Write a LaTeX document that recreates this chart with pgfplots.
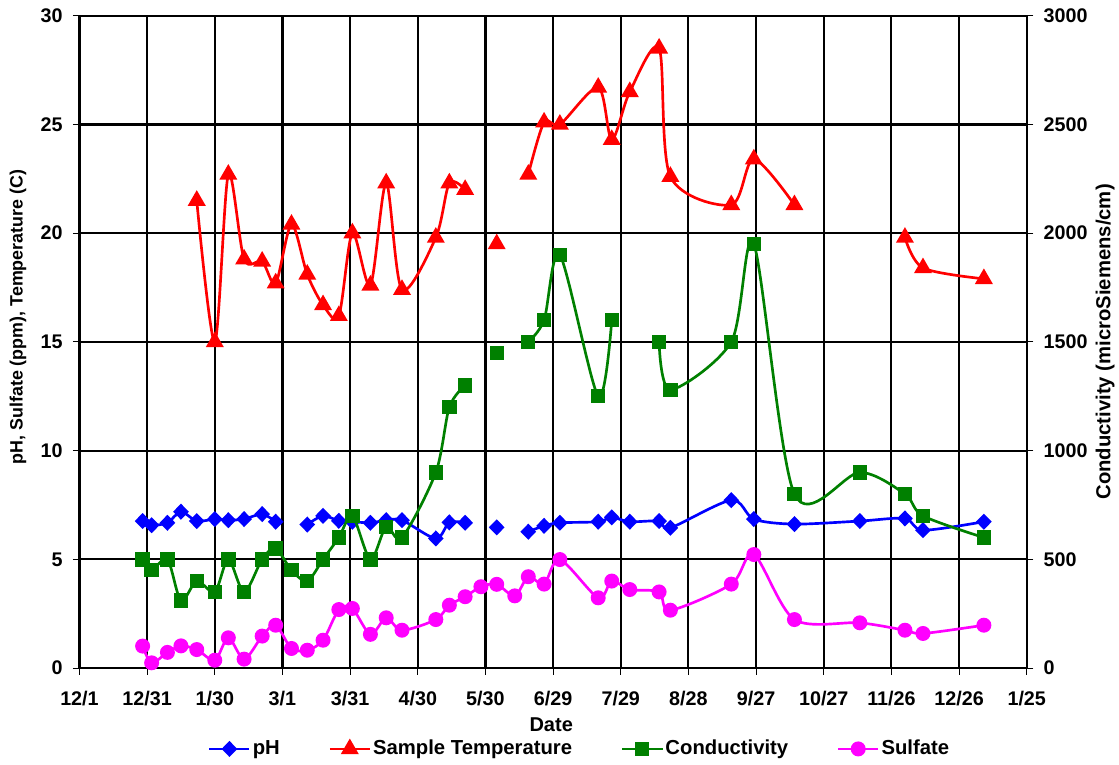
\documentclass[border=0pt]{standalone}
\usepackage{fontspec}
\setmainfont{Liberation Sans}
\usepackage{pgfplots}
\pgfplotsset{compat=1.18}

\definecolor{phblue}{RGB}{0,0,255}
\definecolor{tred}{RGB}{255,0,0}
\definecolor{cgreen}{RGB}{0,128,0}
\definecolor{smag}{RGB}{255,0,255}

\pgfplotsset{
  base/.style={
    scale only axis, width=710.4pt, height=489.2pt,
    xmin=0, xmax=420,
    /pgf/number format/assume math mode=true,
    /pgf/number format/1000 sep={},
    tick align=outside, major tick length=5pt,
    every tick/.style={black, line width=0.8pt},
    tick label style={font=\fontsize{14.8}{17}\selectfont\bfseries},
    label style={font=\fontsize{15}{18}\selectfont\bfseries},
  },
  phs/.style={phblue, line width=2pt, smooth, mark=diamond*, mark size=4.6pt, mark options={solid, xscale=1.3}},
  ts/.style={tred, line width=2pt, smooth, mark=triangle*, mark size=5.8pt, mark options={solid}},
  cs/.style={cgreen, line width=2pt, smooth, mark=square*, mark size=4.4pt, mark options={solid}},
  ss/.style={smag, line width=2pt, smooth, mark=*, mark size=4.6pt, mark options={solid}},
}

\begin{document}
\fontsize{15}{18}\selectfont\bfseries
\begin{tikzpicture}
\useasboundingbox (-59.6pt,-72pt) rectangle (779.6pt,501pt);

\begin{axis}[base,
  ymin=0, ymax=30, ytick={0,5,...,30},
  xtick={0,30,...,420},
  xticklabels={12/1,12/31,1/30,3/1,3/31,4/30,5/30,6/29,7/29,8/28,9/27,10/27,11/26,12/26,1/25},
  xtick pos=bottom, ytick pos=left,
  xticklabel style={yshift=-7.5pt},
  yticklabel style={xshift=-2.5pt},
  grid=major, major grid style={black, line width=1.6pt},
  axis line style={black, line width=1.6pt},
  xlabel={Date},
  xlabel style={at={(axis description cs:0.498,-0.0874)}, anchor=center},
  ylabel={pH, Sulfate (ppm), Temperature (C)},
  ylabel style={at={(axis description cs:-0.0649,0.538)}, anchor=center, font=\fontsize{13.4}{16}\selectfont\bfseries},
]
% pH
\addplot[phs] coordinates {(28,6.76)(32,6.57)(39,6.68)(45,7.19)(52,6.76)(60,6.85)(66,6.80)(73,6.85)(81,7.08)(87,6.73)};
\addplot[phs] coordinates {(101,6.60)(108,7.00)(115,6.77)(121,6.73)(129,6.68)(136,6.80)(143,6.80)(158,5.96)(164,6.70)(171,6.68)};
\addplot[phs, only marks] coordinates {(185,6.47)};
\addplot[phs] coordinates {(199,6.27)(206,6.54)(213,6.68)(230,6.73)(236,6.93)(244,6.73)(257,6.76)(262,6.45)(289,7.72)(299,6.85)(317,6.62)(346,6.76)(366,6.88)(374,6.34)(401,6.73)};
% sample temperature
\addplot[ts] coordinates {(52,21.5)(60,15.0)(66,22.7)(73,18.8)(81,18.7)(87,17.7)(94,20.4)(101,18.1)(108,16.7)(115,16.2)(121,20.0)(129,17.6)(136,22.3)(143,17.4)(158,19.8)(164,22.3)(171,22.0)};
\addplot[ts, only marks] coordinates {(185,19.5)};
\addplot[ts] coordinates {(199,22.7)(206,25.1)(213,25.0)(230,26.7)(236,24.3)(244,26.5)(257,28.5)(262,22.6)(289,21.3)(299,23.4)(317,21.3)};
\addplot[ts] coordinates {(366,19.8)(374,18.4)(401,17.9)};
% sulfate
\addplot[ss] coordinates {(28,1.01)(32,0.24)(39,0.72)(45,1.02)(52,0.85)(60,0.36)(66,1.39)(73,0.41)(81,1.47)(87,1.97)(94,0.90)(101,0.82)(108,1.28)(115,2.69)(121,2.74)(129,1.55)(136,2.31)(143,1.74)(158,2.23)(164,2.89)(171,3.28)(178,3.74)(185,3.85)(193,3.32)(199,4.20)(206,3.86)(213,4.99)(230,3.23)(236,4.00)(244,3.61)(257,3.50)(262,2.66)(289,3.86)(299,5.22)(317,2.23)(346,2.08)(366,1.74)(374,1.59)(401,1.97)};
\end{axis}

\begin{axis}[base,
  ymin=0, ymax=3000, ytick={0,500,...,3000},
  axis x line=none, axis y line*=right,
  axis line style={black, line width=1.6pt},
  yticklabel style={xshift=2.5pt},
  ylabel={Conductivity (microSiemens/cm)},
  ylabel style={at={(axis description cs:1.0827,0.5)}, anchor=center, rotate=0, font=\fontsize{15.2}{18}\selectfont\bfseries},
  legend columns=4,
  legend style={at={(axis description cs:0.528,-0.124)}, anchor=center, draw=none, fill=none,
    font=\fontsize{15.2}{18}\selectfont\bfseries, nodes={inner sep=1.5pt},
    /tikz/every even column/.append style={column sep=35pt}},
  legend image code/.code={\draw[mark repeat=2, mark phase=2] plot coordinates {(0pt,0pt)(15pt,0pt)(30pt,0pt)};},
]
\addlegendimage{phs, sharp plot}
\addlegendentry{pH}
\addlegendimage{ts, sharp plot}
\addlegendentry{Sample Temperature}
% conductivity
\addplot[cs] coordinates {(28,500)(32,450)(39,500)(45,310)(52,400)(60,350)(66,500)(73,350)(81,500)(87,550)(94,450)(101,400)(108,500)(115,600)(121,700)(129,500)(136,650)(143,600)(158,900)(164,1200)(171,1300)};
\addlegendentry{Conductivity}
\addplot[cs, only marks, forget plot] coordinates {(185,1450)};
\addplot[cs, forget plot] coordinates {(199,1500)(206,1600)(213,1900)(230,1250)(236,1600)};
\addplot[cs, forget plot] coordinates {(257,1500)(262,1280)(289,1500)(299,1950)(317,800)(346,900)(366,800)(374,700)(401,600)};
\addlegendimage{ss, sharp plot}
\addlegendentry{Sulfate}
\end{axis}
\end{tikzpicture}
\end{document}
